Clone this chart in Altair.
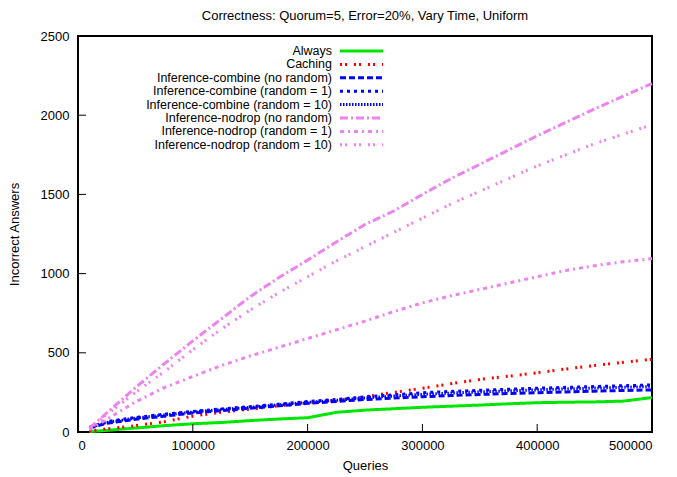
import altair as alt
import pandas as pd

queries = [10000, 25000, 50000, 75000, 100000, 125000, 150000, 175000, 200000, 225000,
           250000, 275000, 300000, 325000, 350000, 375000, 400000, 425000, 450000, 475000, 500000]

always = [3, 10, 25, 40, 52, 60, 72, 82, 90, 124, 138, 147, 156, 163, 170, 178, 185, 188, 190, 195, 217]
caching = [5, 20, 40, 65, 100, 125, 145, 165, 183, 200, 222, 250, 276, 305, 332, 352, 374, 398, 420, 440, 459]
comb_norand = [25, 55, 80, 100, 120, 135, 150, 165, 181, 193, 205, 214, 223, 230, 237, 243, 248, 253, 258, 262, 266]
comb_r1 = [30, 65, 92, 112, 130, 146, 160, 176, 192, 205, 222, 235, 248, 256, 263, 270, 276, 282, 287, 292, 297]
comb_r10 = [28, 60, 88, 108, 126, 142, 156, 172, 187, 200, 215, 227, 238, 246, 253, 260, 266, 272, 277, 282, 287]
nodrop_norand = [25, 120, 280, 430, 575, 715, 855, 975, 1085, 1200, 1310, 1395, 1500, 1600, 1690, 1780, 1870, 1955, 2040, 2120, 2200]
nodrop_r1 = [15, 80, 190, 280, 350, 420, 480, 535, 590, 645, 700, 760, 815, 860, 900, 940, 980, 1020, 1050, 1075, 1095]
nodrop_r10 = [20, 110, 250, 380, 520, 650, 770, 880, 980, 1080, 1170, 1260, 1350, 1440, 1520, 1600, 1680, 1750, 1820, 1880, 1940]

names = ["Always", "Caching", "Inference-combine (no random)", "Inference-combine (random = 1)",
         "Inference-combine (random = 10)", "Inference-nodrop (no random)",
         "Inference-nodrop (random = 1)", "Inference-nodrop (random = 10)"]
series = [always, caching, comb_norand, comb_r1, comb_r10, nodrop_norand, nodrop_r1, nodrop_r10]
colors = ["#00e600", "#ff0000", "#0000ff", "#0000ff", "#0000ff", "#ee82ee", "#ee82ee", "#ee82ee"]
dashes = [[1, 0], [2, 3, 2, 7], [6, 3], [3, 4], [1.5, 1.5], [8, 3, 2, 3], [4, 4, 2, 4], [2, 3, 2, 7]]

y_ticks = [0, 500, 1000, 1500, 2000, 2500]
x_ticks = [0, 100000, 200000, 300000, 400000, 500000]

rows = []
for n, vals in zip(names, series):
    for q, v in zip(queries, vals):
        rows.append({"series": n, "queries": q, "answers": v})
df = pd.DataFrame(rows)
legend_df = pd.DataFrame({"series": names, "row": list(range(len(names)))})

W, H = 574, 396

color_scale = alt.Scale(domain=names, range=colors)
dash_scale = alt.Scale(domain=names, range=dashes)

lines = alt.Chart(df).mark_line(strokeWidth=3, strokeCap="butt").encode(
    x=alt.X("queries:Q", scale=alt.Scale(domain=[0, 500000], nice=False),
            axis=alt.Axis(values=x_ticks, format="d", title="Queries", grid=False,
                          domain=False, tickSize=0, labelPadding=7, labelFontSize=13,
                          titleFontSize=13, titleFontWeight="normal", titleY=33,
                          titleBaseline="middle", labelColor="black", titleColor="black")),
    y=alt.Y("answers:Q", scale=alt.Scale(domain=[0, 2500], nice=False),
            axis=alt.Axis(values=y_ticks, format="d", title="Incorrect Answers", grid=False,
                          domain=False, tickSize=0, labelPadding=9, labelFontSize=13,
                          titleFontSize=13, titleFontWeight="normal", titleX=-64,
                          titleY=H / 2, titleAngle=-90, titleBaseline="middle",
                          labelColor="black", titleColor="black")),
    color=alt.Color("series:N", scale=color_scale, legend=None),
    strokeDash=alt.StrokeDash("series:N", scale=dash_scale, legend=None),
    detail="series:N",
)

ytick_df = pd.DataFrame({"v": y_ticks})
xtick_df = pd.DataFrame({"v": x_ticks})

yticks = alt.Chart(ytick_df).mark_rule(color="black", strokeWidth=1).encode(
    y=alt.Y("v:Q"), x=alt.value(0), x2=alt.value(8))
xticks = alt.Chart(xtick_df).mark_rule(color="black", strokeWidth=1).encode(
    x=alt.X("v:Q"), y=alt.value(H), y2=alt.value(H - 8))

leg_base = alt.Chart(legend_df).transform_calculate(ly="15 + 13.4 * datum.row")

leg_text = leg_base.mark_text(align="right", baseline="middle", fontSize=12.5, color="black").encode(
    text="series:N",
    x=alt.value(254),
    y=alt.Y("ly:Q", scale=None, axis=None),
)
leg_line = leg_base.mark_rule(strokeWidth=3, strokeCap="butt").encode(
    x=alt.value(262), x2=alt.value(305),
    y=alt.Y("ly:Q", scale=None, axis=None),
    color=alt.Color("series:N", scale=color_scale, legend=None),
    strokeDash=alt.StrokeDash("series:N", scale=dash_scale, legend=None),
)

chart = alt.layer(lines, yticks, xticks, leg_line, leg_text).properties(
    width=W, height=H,
    title=alt.TitleParams("Correctness: Quorum=5, Error=20%, Vary Time, Uniform",
                          fontSize=13, fontWeight="normal", anchor="middle", offset=7,
                          color="black"),
    autosize=alt.AutoSizeParams(type="none"),
    padding={"left": 78, "top": 36, "right": 25, "bottom": 45},
).configure(font="Liberation Sans", background="white").configure_view(
    stroke="black", strokeWidth=2)

chart.save("out.html", embed_options={"renderer": "svg", "actions": False})
